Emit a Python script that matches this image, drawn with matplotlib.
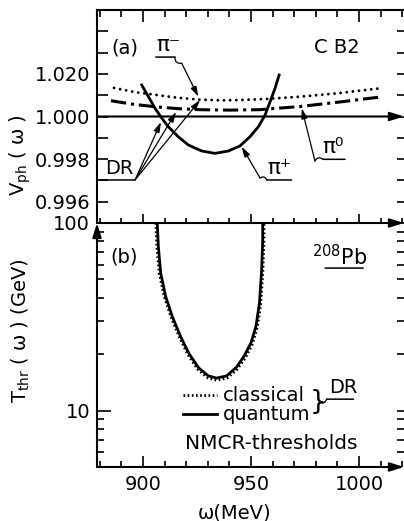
import numpy as np
import matplotlib
matplotlib.use("Agg")
import matplotlib.pyplot as plt
from matplotlib.ticker import FixedLocator, NullFormatter, FixedFormatter

plt.rcParams['font.family'] = ['DejaVu Sans']
plt.rcParams['mathtext.default'] = 'regular'

# ---------------- data ----------------
# panel (a): phase velocity vs omega
omega_pim = [886.6, 896, 906.3, 916, 926.4, 936, 944.9, 958, 972.7, 991, 1011]
vph_pim = [1.00134, 1.00115, 1.00101, 1.00088, 1.00079, 1.00076, 1.00077, 1.00083, 1.00093, 1.0011, 1.00134]

omega_pi0 = [885.2, 895, 906.3, 916, 926.4, 940, 954, 972.7, 991, 1011]
vph_pi0 = [1.00074, 1.00058, 1.00045, 1.00037, 1.00032, 1.0003, 1.00032, 1.00047, 1.00068, 1.00093]

omega_pip = [899.4, 902.5, 905.6, 908.7, 911.7, 916.3, 921.0, 927.2, 933.3, 939.5, 944.9, 949.5,
             953.4, 956.5, 958.8, 961.1, 963.0]
vph_pip = [1.00148, 1.00093, 1.00038, 0.99992, 0.99952, 0.99905, 0.99866, 0.99838, 0.99827, 0.99838,
           0.99862, 0.99905, 0.99952, 1.00007, 1.00069, 1.00132, 1.00195]

# panel (b): NMCR thresholds
omega_q = [906.6, 907.1, 908.2, 910.5, 913.6, 917.4, 921.2, 925.7, 930.2, 934.1, 938.7, 943.2,
           946.9, 950.0, 952.3, 953.9, 954.9, 955.4, 955.4]
T_q = [100, 74.8, 53.9, 40.5, 31.6, 24.8, 20.2, 16.9, 15.3, 14.9, 15.3, 17.0, 19.6, 23.0, 28.2,
       37.5, 56.1, 81.2, 100]
omega_c = [905.9, 906.4, 907.5, 909.8, 912.9, 916.7, 920.6, 925.3, 930.1, 934.1, 938.9, 943.6,
           947.5, 950.6, 952.9, 954.5, 955.5, 956.0, 956.0]
T_c = [100, 74.8, 53.9, 40.5, 31.6, 24.8, 20.0, 16.6, 14.9, 14.5, 14.9, 16.6, 19.2, 22.6, 27.8,
       37.1, 56.1, 81.2, 100]

x_major = [900, 950, 1000]
x_minor = [880, 890, 910, 920, 930, 940, 960, 970, 980, 990, 1010, 1020]
y1_major = [0.996, 0.998, 1.000, 1.002]
y1_labels = ["0.996", "0.998", "1.000", "1.020"]
y1_minor = [0.995, 0.997, 0.999, 1.001, 1.003, 1.004]
y2_major = [10, 100]
y2_labels = ["10", "100"]
y2_minor = [6, 7, 8, 9, 20, 30, 40, 50, 60, 70, 80, 90]

W, H = 404, 521
fig = plt.figure(figsize=(W / 100, H / 100), dpi=100)

def fx(px):
    return px / W

def fy(py):
    return 1 - py / H

ax1 = fig.add_axes([fx(97), fy(223), (404 - 97) / W, (223 - 10) / H])
ax2 = fig.add_axes([fx(97), fy(467), (404 - 97) / W, (467 - 223) / H])

XLIM = (878.7, 1020.8)
FS = 14
LW_AX = 1.5

# ---------- panel (a) ----------
ax1.plot(omega_pim, vph_pim, color='black', lw=2.1, linestyle=(0, (0.01, 2.1)), dash_capstyle='round')
ax1.plot(omega_pi0, vph_pi0, color='black', lw=2.2, linestyle=(0, (5, 1.6, 1, 1.6)))
ax1.plot(omega_pip, vph_pip, color='black', lw=2.0)
ax1.set_xlim(*XLIM)
ax1.set_ylim(0.995, 1.005)

for s in ['right', 'bottom']:
    ax1.spines[s].set_visible(False)
for s in ['left', 'top']:
    ax1.spines[s].set_linewidth(LW_AX)

ax1.xaxis.set_major_locator(FixedLocator(x_major))
ax1.xaxis.set_minor_locator(FixedLocator(x_minor))
ax1.tick_params(axis='x', which='both', bottom=False, top=True, labelbottom=False, labeltop=False,
                direction='in', width=1.2)
ax1.tick_params(axis='x', which='major', length=8.5)
ax1.tick_params(axis='x', which='minor', length=5)

ax1.yaxis.set_major_locator(FixedLocator(y1_major))
ax1.yaxis.set_major_formatter(FixedFormatter(y1_labels))
ax1.yaxis.set_minor_locator(FixedLocator(y1_minor))
ax1.tick_params(axis='y', which='both', left=True, right=False, direction='in', width=1.2,
                length=8, labelsize=FS, pad=5)

# bottom ticks (shared line) of panel (a)
secx = ax1.secondary_xaxis('bottom')
secx.xaxis.set_major_locator(FixedLocator(x_major))
secx.xaxis.set_minor_locator(FixedLocator(x_minor))
secx.tick_params(axis='x', which='both', direction='inout', width=1.2, labelbottom=False)
secx.tick_params(axis='x', which='major', length=13.5)
secx.tick_params(axis='x', which='minor', length=7)
for s in secx.spines.values():
    s.set_visible(False)

secy = ax1.secondary_yaxis('right')
secy.yaxis.set_major_locator(FixedLocator(y1_major + y1_minor))
secy.tick_params(axis='y', direction='in', length=5, width=1.2, labelright=False)
for s in secy.spines.values():
    s.set_visible(False)

arrow_kw = dict(arrowstyle='-|>,head_length=0.7,head_width=0.22', lw=1.5, color='black',
                shrinkA=0, shrinkB=0, mutation_scale=12)
ax1.annotate('', xy=(1.0, 1.000), xytext=(0.0, 1.000), xycoords=ax1.get_yaxis_transform(),
             textcoords=ax1.get_yaxis_transform(), arrowprops=arrow_kw, annotation_clip=False)

# annotations (a)
ptr = dict(arrowstyle='-|>,head_length=0.6,head_width=0.18', lw=0.9, color='black',
           shrinkA=0, shrinkB=0, mutation_scale=10)
ul = dict(arrowstyle='-', lw=1.1, color='black', shrinkA=0, shrinkB=0)
sq = dict(arrowstyle='-', lw=0.9, color='black', shrinkA=0, shrinkB=0, connectionstyle='arc3,rad=0.6')

ax1.text(891.4, 1.00322, '(a)', fontsize=FS, ha='center', va='center')
ax1.text(989.8, 1.00322, 'C B2', fontsize=FS, ha='center', va='center')

# pi-
ax1.text(906.3, 1.00289, 'π⁻', fontsize=FS + 1.5, ha='left', va='bottom')
ax1.annotate('', xy=(914.8, 1.00279), xytext=(905.9, 1.00279), arrowprops=ul)
ax1.annotate('', xy=(917.9, 1.0025), xytext=(914.8, 1.00279), arrowprops=sq)
ax1.annotate('', xy=(925.6, 1.00093), xytext=(917.9, 1.0025), arrowprops=ptr)

# DR
ax1.text(882.4, 0.99711, 'DR', fontsize=FS, ha='left', va='bottom')
ax1.annotate('', xy=(896.3, 0.99702), xytext=(880.1, 0.99702), arrowprops=ul)
for tip in [(908.3, 0.99974), (915.3, 1.00021), (926.4, 1.00077)]:
    ax1.annotate('', xy=tip, xytext=(896.3, 0.99702), arrowprops=ptr)

# pi+
ax1.text(957.6, 0.99711, 'π⁺', fontsize=FS + 1.5, ha='left', va='bottom')
ax1.annotate('', xy=(968.8, 0.99702), xytext=(957.3, 0.99702), arrowprops=ul)
ax1.annotate('', xy=(954.2, 0.99711), xytext=(957.3, 0.99702), arrowprops=sq)
ax1.annotate('', xy=(945.7, 0.99858), xytext=(954.2, 0.99711), arrowprops=ptr)

# pi0
ax1.text(983.0, 0.9981, 'π⁰', fontsize=FS + 1.5, ha='left', va='bottom')
ax1.annotate('', xy=(993.5, 0.99799), xytext=(983.3, 0.99799), arrowprops=ul)
ax1.annotate('', xy=(979.6, 0.99791), xytext=(983.3, 0.99799), arrowprops=sq)
ax1.annotate('', xy=(973.5, 1.00038), xytext=(979.6, 0.99791), arrowprops=ptr)

# ---------- panel (b) ----------
lc, = ax2.plot(omega_c, T_c, color='black', lw=2.0, linestyle=(0, (0.6, 0.9)), label='classical')
lq, = ax2.plot(omega_q, T_q, color='black', lw=2.0, label='quantum')
ax2.set_yscale('log')
ax2.set_xlim(*XLIM)
ax2.set_ylim(5, 100)
for s in ax2.spines.values():
    s.set_visible(False)

ax2.xaxis.set_major_locator(FixedLocator(x_major))
ax2.xaxis.set_minor_locator(FixedLocator(x_minor))
ax2.tick_params(axis='x', which='both', bottom=True, top=False, direction='in', width=1.2,
                labelsize=FS, pad=6)
ax2.tick_params(axis='x', which='major', length=8)
ax2.tick_params(axis='x', which='minor', length=4.5)

ax2.yaxis.set_major_locator(FixedLocator(y2_major))
ax2.yaxis.set_major_formatter(FixedFormatter(y2_labels))
ax2.yaxis.set_minor_locator(FixedLocator(y2_minor))
ax2.yaxis.set_minor_formatter(NullFormatter())
ax2.tick_params(axis='y', which='both', left=True, right=False, direction='in', width=1.2,
                labelsize=FS, pad=5)
ax2.tick_params(axis='y', which='major', length=10)
ax2.tick_params(axis='y', which='minor', length=5)

secy2 = ax2.secondary_yaxis('right')
secy2.yaxis.set_major_locator(FixedLocator(y2_major + y2_minor))
secy2.yaxis.set_minor_locator(FixedLocator([]))
secy2.tick_params(axis='y', which='both', direction='in', length=5, width=1.2, labelright=False)
for s in secy2.spines.values():
    s.set_visible(False)

# axis lines with arrows
ax2.annotate('', xy=(1, 1), xytext=(0, 1), xycoords='axes fraction', arrowprops=arrow_kw,
             annotation_clip=False)
ax2.annotate('', xy=(1, 0), xytext=(0, 0), xycoords='axes fraction', arrowprops=arrow_kw,
             annotation_clip=False)
ax2.annotate('', xy=(0, 1), xytext=(0, 0), xycoords='axes fraction', arrowprops=arrow_kw,
             annotation_clip=False)

ax2.text(891.4, 65.9, '(b)', fontsize=FS, ha='center', va='center')
ax2.text(991.2, 65.9, '$^{208}$Pb', fontsize=FS + 1, ha='center', va='center')
ax2.annotate('', xy=(1001.9, 57.5), xytext=(984.3, 57.5), arrowprops=ul)

leg = ax2.legend(handles=[lc, lq], loc='upper left', bbox_to_anchor=(0.28, 0.33), frameon=False,
                 fontsize=FS, handlelength=1.75, handletextpad=0.3, labelspacing=0.0,
                 borderpad=0.0, borderaxespad=0.0)
ax2.text(977.0, 11.1, '}', fontsize=19, ha='left', va='center')
ax2.text(986.0, 11.8, 'DR', fontsize=FS, ha='left', va='bottom')
ax2.annotate('', xy=(997.4, 11.5), xytext=(985.0, 11.5), arrowprops=ul)
ax2.annotate('', xy=(985.0, 11.5), xytext=(981.4, 11.1), arrowprops=sq)
ax2.text(919.4, 6.68, 'NMCR-thresholds', fontsize=FS + 0.5, ha='left', va='center')

# axis labels
fig.text(fx(20), fy(155), 'V$_{ph}$ ( ω )', rotation=90, fontsize=FS, ha='center', va='center')
fig.text(fx(21), fy(331), 'T$_{thr}$ ( ω ) (GeV)', rotation=90, fontsize=FS, ha='center', va='center')
fig.text(fx(235), fy(513), 'ω(MeV)', fontsize=FS, ha='center', va='center')

fig.savefig('out.png', dpi=100)
